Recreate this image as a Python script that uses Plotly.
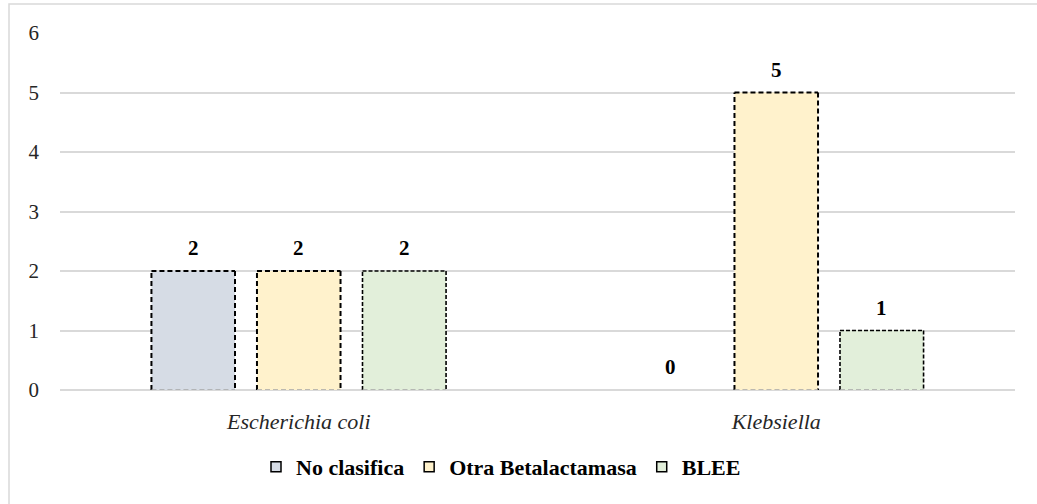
import plotly.graph_objects as go

categories = ["Escherichia coli", "Klebsiella"]
series_names = ["No clasifica", "Otra Betalactamasa", "BLEE"]
no_clasifica = [2, 0]
otra_beta = [2, 5]
blee = [2, 1]
colors = ["#D6DCE5", "#FFF2CC", "#E2EFDA"]
y_ticks = [0, 1, 2, 3, 4, 5, 6]

W, H = 1037, 504
ml, mr, mt, mb = 60, 22, 33, 114
pw = W - ml - mr
ph = H - mt - mb

FONT = "Liberation Serif, Times New Roman, serif"
slot = 0.221
bw = 0.175
dash_styles = [("5px,3px", 2.0), ("5px,3px", 2.0), ("4px,2px", 1.6)]

fig = go.Figure()
series_vals = [no_clasifica, otra_beta, blee]
for i, (name, vals, col) in enumerate(zip(series_names, series_vals, colors)):
    off = (i - 1) * slot - bw / 2
    fig.add_trace(go.Bar(
        x=categories, y=vals, name=name,
        offset=off, width=bw, showlegend=False,
        marker=dict(color=col, line=dict(width=0)),
        cliponaxis=False,
    ))
    # legend entry: small square swatch with dark outline
    fig.add_trace(go.Scatter(
        x=[None], y=[None], mode="markers", name=name,
        marker=dict(symbol="square", size=10, color=col, line=dict(color="black", width=1.5)),
    ))
    dash, lw = dash_styles[i]
    for j, v in enumerate(vals):
        xc = j + (i - 1) * slot
        if v > 0:
            x0, x1 = xc - bw / 2, xc + bw / 2
            for (a, b, c, d) in [(x0, 0, x0, v), (x0, v, x1, v), (x1, v, x1, 0)]:
                fig.add_shape(type="line", xref="x", yref="y", x0=a, y0=b, x1=c, y1=d,
                              line=dict(color="black", width=lw, dash=dash), layer="above")
            fig.add_shape(type="line", xref="x", yref="y", x0=x0, y0=0, x1=x1, y1=0,
                          line=dict(color="#A6A6A6", width=1.5, dash="5px,3px"), layer="above")
        fig.add_annotation(x=xc, y=v, xref="x", yref="y", text=str(v),
                           showarrow=False, yshift=23,
                           font=dict(family=FONT, size=21, color="black", weight="bold"))

# outer chart border (only top and left edges visible in the frame)
fig.add_shape(type="rect", xref="paper", yref="paper",
              x0=(9 - ml) / pw, x1=(W + 10 - ml) / pw,
              y0=-(H + 10 - mt - ph) / ph, y1=(ph + mt - 4) / ph,
              line=dict(color="#D9D9D9", width=1.5), fillcolor="rgba(0,0,0,0)", layer="below")

fig.update_layout(
    width=W, height=H,
    margin=dict(l=ml, r=mr, t=mt, b=mb, autoexpand=False),
    barmode="overlay",
    plot_bgcolor="white", paper_bgcolor="white",
    font=dict(family=FONT, size=20, color="#262626"),
    xaxis=dict(showline=False, ticks="", ticklabelstandoff=16,
               tickfont=dict(family=FONT, size=22, style="italic", color="#262626")),
    yaxis=dict(range=[0, 6], tickvals=y_ticks, showgrid=True, gridcolor="#D9D9D9", gridwidth=1.5,
               zeroline=True, zerolinecolor="#D9D9D9", zerolinewidth=1.5, ticks="", ticklabelstandoff=20,
               tickfont=dict(family=FONT, size=21, color="#262626")),
    legend=dict(orientation="h", x=(256 - ml) / pw, xanchor="left", y=-77 / ph, yanchor="middle",
                font=dict(family=FONT, size=22, color="black", weight="bold"),
                itemwidth=30, tracegroupgap=0),
    showlegend=True,
)

fig.write_html("out.html", config={"displayModeBar": False},
               post_script="document.body.style.margin='0';")
